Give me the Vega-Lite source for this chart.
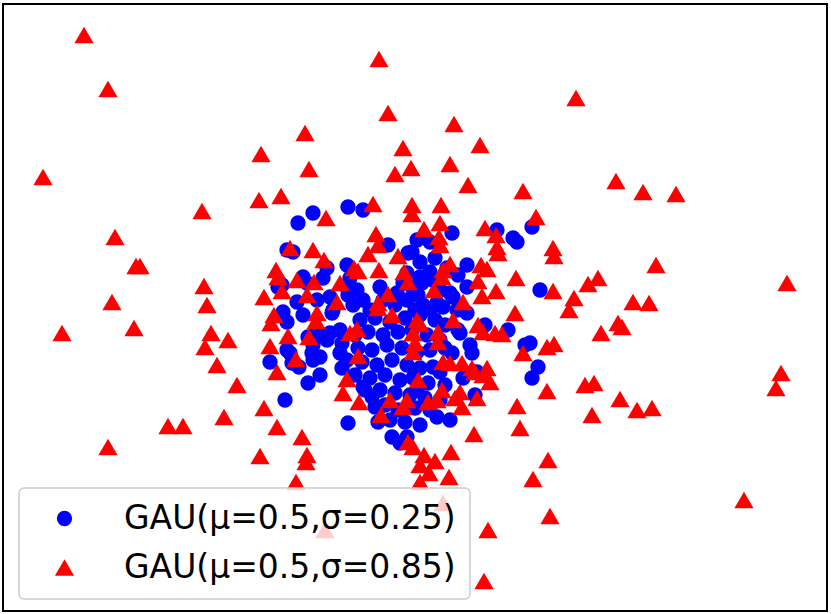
{
"$schema":"https://vega.github.io/schema/vega-lite/v6.json",
"width":831,"height":614,
"autosize":{"type":"fit","contains":"padding"},
"padding":{"left":3,"top":4,"right":4,"bottom":3},
"config":{"view":{"stroke":"black","strokeWidth":2},"font":"DejaVu Sans"},
"data":{"values":[
{"sigma":0.25,"x":3.48,"y":4.07},{"sigma":0.25,"x":3.63,"y":4.04},{"sigma":0.25,"x":3.13,"y":4.01},{"sigma":0.25,"x":2.98,"y":3.91},{"sigma":0.25,"x":2.87,"y":3.64},{"sigma":0.25,"x":2.93,"y":3.62},{"sigma":0.25,"x":3.88,"y":3.69},{"sigma":0.25,"x":4.08,"y":3.61},{"sigma":0.25,"x":4.17,"y":3.74},{"sigma":0.25,"x":4.30,"y":3.72},{"sigma":0.25,"x":4.52,"y":3.81},{"sigma":0.25,"x":4.12,"y":3.62},{"sigma":0.25,"x":4.97,"y":3.84},{"sigma":0.25,"x":5.13,"y":3.76},{"sigma":0.25,"x":5.17,"y":3.72},{"sigma":0.25,"x":5.32,"y":3.87},{"sigma":0.25,"x":4.67,"y":3.49},{"sigma":0.25,"x":5.40,"y":3.24},{"sigma":0.25,"x":4.67,"y":3.27},{"sigma":0.25,"x":3.27,"y":3.46},{"sigma":0.25,"x":3.47,"y":3.49},{"sigma":0.25,"x":3.03,"y":3.37},{"sigma":0.25,"x":3.23,"y":3.36},{"sigma":0.25,"x":2.82,"y":3.29},{"sigma":0.25,"x":2.78,"y":3.27},{"sigma":0.25,"x":2.97,"y":3.12},{"sigma":0.25,"x":3.17,"y":3.14},{"sigma":0.25,"x":3.30,"y":3.17},{"sigma":0.25,"x":3.48,"y":3.19},{"sigma":0.25,"x":3.57,"y":3.24},{"sigma":0.25,"x":3.63,"y":3.14},{"sigma":0.25,"x":3.53,"y":3.09},{"sigma":0.25,"x":3.80,"y":3.27},{"sigma":0.25,"x":3.97,"y":3.21},{"sigma":0.25,"x":4.07,"y":3.14},{"sigma":0.25,"x":2.83,"y":3.02},{"sigma":0.25,"x":3.33,"y":3.04},{"sigma":0.25,"x":3.47,"y":3.26},{"sigma":0.25,"x":3.50,"y":3.36},{"sigma":0.25,"x":3.83,"y":3.14},{"sigma":0.25,"x":4.03,"y":3.31},{"sigma":0.25,"x":4.07,"y":3.41},{"sigma":0.25,"x":4.20,"y":3.37},{"sigma":0.25,"x":4.30,"y":3.42},{"sigma":0.25,"x":4.12,"y":3.27},{"sigma":0.25,"x":4.22,"y":3.31},{"sigma":0.25,"x":4.33,"y":3.34},{"sigma":0.25,"x":4.50,"y":3.21},{"sigma":0.25,"x":4.53,"y":3.17},{"sigma":0.25,"x":4.23,"y":3.09},{"sigma":0.25,"x":4.37,"y":3.11},{"sigma":0.25,"x":4.43,"y":3.07},{"sigma":0.25,"x":4.57,"y":3.04},{"sigma":0.25,"x":4.67,"y":3.01},{"sigma":0.25,"x":2.87,"y":2.92},{"sigma":0.25,"x":3.07,"y":3.31},{"sigma":0.25,"x":3.17,"y":2.84},{"sigma":0.25,"x":3.27,"y":2.74},{"sigma":0.25,"x":3.12,"y":2.61},{"sigma":0.25,"x":3.20,"y":2.57},{"sigma":0.25,"x":2.87,"y":2.64},{"sigma":0.25,"x":2.92,"y":2.51},{"sigma":0.25,"x":3.08,"y":2.31},{"sigma":0.25,"x":3.40,"y":2.61},{"sigma":0.25,"x":3.47,"y":2.54},{"sigma":0.25,"x":3.42,"y":2.71},{"sigma":0.25,"x":3.03,"y":2.99},{"sigma":0.25,"x":3.32,"y":3.01},{"sigma":0.25,"x":3.08,"y":2.77},{"sigma":0.25,"x":3.22,"y":2.79},{"sigma":0.25,"x":3.30,"y":2.81},{"sigma":0.25,"x":3.40,"y":2.84},{"sigma":0.25,"x":3.13,"y":2.69},{"sigma":0.25,"x":2.90,"y":2.61},{"sigma":0.25,"x":2.70,"y":2.52},{"sigma":0.25,"x":2.99,"y":2.47},{"sigma":0.25,"x":3.13,"y":2.54},{"sigma":0.25,"x":3.42,"y":2.46},{"sigma":0.25,"x":3.20,"y":2.39},{"sigma":0.25,"x":2.85,"y":2.14},{"sigma":0.25,"x":3.48,"y":1.91},{"sigma":0.25,"x":3.63,"y":2.27},{"sigma":0.25,"x":3.72,"y":2.17},{"sigma":0.25,"x":3.75,"y":2.07},{"sigma":0.25,"x":3.78,"y":1.92},{"sigma":0.25,"x":3.92,"y":1.77},{"sigma":0.25,"x":4.00,"y":1.71},{"sigma":0.25,"x":5.30,"y":2.71},{"sigma":0.25,"x":5.25,"y":2.69},{"sigma":0.25,"x":5.38,"y":2.47},{"sigma":0.25,"x":5.32,"y":2.36},{"sigma":0.25,"x":5.08,"y":2.84},{"sigma":0.25,"x":4.85,"y":2.89},{"sigma":0.25,"x":4.70,"y":2.69},{"sigma":0.25,"x":4.72,"y":2.61},{"sigma":0.25,"x":4.58,"y":2.84},{"sigma":0.25,"x":4.52,"y":2.61},{"sigma":0.25,"x":4.63,"y":2.36},{"sigma":0.25,"x":4.77,"y":2.42},{"sigma":0.25,"x":4.75,"y":2.19},{"sigma":0.25,"x":4.37,"y":1.97},{"sigma":0.25,"x":4.50,"y":1.94},{"sigma":0.25,"x":4.17,"y":2.24},{"sigma":0.25,"x":4.33,"y":2.47},{"sigma":0.25,"x":4.07,"y":1.77},
{"sigma":0.25,"x":3.60,"y":2.94},{"sigma":0.25,"x":3.75,"y":2.96},{"sigma":0.25,"x":3.90,"y":2.92},{"sigma":0.25,"x":4.05,"y":2.96},{"sigma":0.25,"x":4.20,"y":2.99},{"sigma":0.25,"x":4.35,"y":2.94},{"sigma":0.25,"x":4.45,"y":2.89},{"sigma":0.25,"x":3.55,"y":2.79},{"sigma":0.25,"x":3.68,"y":2.82},{"sigma":0.25,"x":3.83,"y":2.79},{"sigma":0.25,"x":3.98,"y":2.82},{"sigma":0.25,"x":4.12,"y":2.84},{"sigma":0.25,"x":4.27,"y":2.79},{"sigma":0.25,"x":4.40,"y":2.74},{"sigma":0.25,"x":3.58,"y":2.66},{"sigma":0.25,"x":3.72,"y":2.64},{"sigma":0.25,"x":3.87,"y":2.69},{"sigma":0.25,"x":4.02,"y":2.66},{"sigma":0.25,"x":4.17,"y":2.62},{"sigma":0.25,"x":4.30,"y":2.64},{"sigma":0.25,"x":4.45,"y":2.66},{"sigma":0.25,"x":3.62,"y":2.52},{"sigma":0.25,"x":3.77,"y":2.49},{"sigma":0.25,"x":3.92,"y":2.54},{"sigma":0.25,"x":4.07,"y":2.49},{"sigma":0.25,"x":4.20,"y":2.46},{"sigma":0.25,"x":4.40,"y":2.42},{"sigma":0.25,"x":3.55,"y":2.39},{"sigma":0.25,"x":3.70,"y":2.36},{"sigma":0.25,"x":3.85,"y":2.39},{"sigma":0.25,"x":4.00,"y":2.34},{"sigma":0.25,"x":4.13,"y":2.36},{"sigma":0.25,"x":4.28,"y":2.31},{"sigma":0.25,"x":4.45,"y":2.29},{"sigma":0.25,"x":3.65,"y":2.24},{"sigma":0.25,"x":3.80,"y":2.24},{"sigma":0.25,"x":3.95,"y":2.21},{"sigma":0.25,"x":4.10,"y":2.19},{"sigma":0.25,"x":4.25,"y":2.16},{"sigma":0.25,"x":4.40,"y":2.14},{"sigma":0.25,"x":3.85,"y":2.09},{"sigma":0.25,"x":3.98,"y":2.04},{"sigma":0.25,"x":4.15,"y":2.06},{"sigma":0.25,"x":4.30,"y":2.04},{"sigma":0.25,"x":3.90,"y":1.94},{"sigma":0.25,"x":4.05,"y":1.92},{"sigma":0.25,"x":4.20,"y":1.89},{"sigma":0.25,"x":3.95,"y":3.09},{"sigma":0.25,"x":4.15,"y":3.04},{"sigma":0.25,"x":4.30,"y":3.04},{"sigma":0.25,"x":3.70,"y":3.04},{"sigma":0.25,"x":4.40,"y":3.24},{"sigma":0.25,"x":4.18,"y":3.19},{"sigma":0.25,"x":4.20,"y":3.52},{"sigma":0.25,"x":4.35,"y":3.56},{"sigma":0.25,"x":4.47,"y":3.46},{"sigma":0.25,"x":4.58,"y":3.39},{"sigma":0.25,"x":4.60,"y":2.81},
{"sigma":0.85,"x":0.84,"y":5.79},{"sigma":0.85,"x":1.08,"y":5.25},{"sigma":0.85,"x":0.43,"y":4.37},{"sigma":0.85,"x":3.79,"y":5.55},{"sigma":0.85,"x":3.88,"y":5.01},{"sigma":0.85,"x":3.05,"y":4.81},{"sigma":0.85,"x":4.03,"y":4.66},{"sigma":0.85,"x":4.11,"y":4.46},{"sigma":0.85,"x":3.95,"y":4.40},{"sigma":0.85,"x":2.61,"y":4.60},{"sigma":0.85,"x":3.09,"y":4.45},{"sigma":0.85,"x":2.59,"y":4.14},{"sigma":0.85,"x":2.81,"y":4.18},{"sigma":0.85,"x":2.02,"y":4.03},{"sigma":0.85,"x":3.26,"y":3.96},{"sigma":0.85,"x":3.73,"y":4.10},{"sigma":0.85,"x":4.12,"y":4.09},{"sigma":0.85,"x":4.12,"y":4.00},{"sigma":0.85,"x":1.15,"y":3.77},{"sigma":0.85,"x":1.36,"y":3.48},{"sigma":0.85,"x":1.40,"y":3.48},{"sigma":0.85,"x":2.04,"y":3.28},{"sigma":0.85,"x":1.12,"y":3.12},{"sigma":0.85,"x":2.07,"y":3.09},{"sigma":0.85,"x":2.64,"y":3.17},{"sigma":0.85,"x":2.90,"y":3.66},{"sigma":0.85,"x":3.13,"y":3.64},{"sigma":0.85,"x":3.24,"y":3.54},{"sigma":0.85,"x":3.76,"y":3.80},{"sigma":0.85,"x":3.78,"y":3.69},{"sigma":0.85,"x":3.68,"y":3.60},{"sigma":0.85,"x":3.98,"y":3.58},{"sigma":0.85,"x":3.54,"y":3.46},{"sigma":0.85,"x":3.58,"y":3.43},{"sigma":0.85,"x":3.79,"y":3.44},{"sigma":0.85,"x":4.04,"y":3.42},{"sigma":0.85,"x":4.08,"y":3.32},{"sigma":0.85,"x":2.76,"y":3.44},{"sigma":0.85,"x":2.78,"y":3.37},{"sigma":0.85,"x":2.82,"y":3.23},{"sigma":0.85,"x":2.97,"y":3.34},{"sigma":0.85,"x":3.14,"y":3.32},{"sigma":0.85,"x":3.07,"y":3.19},{"sigma":0.85,"x":3.40,"y":3.31},{"sigma":0.85,"x":3.37,"y":3.12},{"sigma":0.85,"x":3.88,"y":3.20},{"sigma":0.85,"x":3.78,"y":3.11},
{"sigma":0.85,"x":5.76,"y":5.16},{"sigma":0.85,"x":4.54,"y":4.90},{"sigma":0.85,"x":4.80,"y":4.69},{"sigma":0.85,"x":4.50,"y":4.50},{"sigma":0.85,"x":4.68,"y":4.29},{"sigma":0.85,"x":5.23,"y":4.23},{"sigma":0.85,"x":6.16,"y":4.33},{"sigma":0.85,"x":6.43,"y":4.22},{"sigma":0.85,"x":6.76,"y":4.20},{"sigma":0.85,"x":4.41,"y":4.09},{"sigma":0.85,"x":5.36,"y":3.97},{"sigma":0.85,"x":4.24,"y":3.85},{"sigma":0.85,"x":4.40,"y":3.91},{"sigma":0.85,"x":4.39,"y":3.77},{"sigma":0.85,"x":4.40,"y":3.69},{"sigma":0.85,"x":4.85,"y":3.86},{"sigma":0.85,"x":4.96,"y":3.79},{"sigma":0.85,"x":4.97,"y":3.67},{"sigma":0.85,"x":4.98,"y":3.61},{"sigma":0.85,"x":5.53,"y":3.66},{"sigma":0.85,"x":5.54,"y":3.58},{"sigma":0.85,"x":6.56,"y":3.49},{"sigma":0.85,"x":7.87,"y":3.31},{"sigma":0.85,"x":4.50,"y":3.50},{"sigma":0.85,"x":4.81,"y":3.49},{"sigma":0.85,"x":4.87,"y":3.45},{"sigma":0.85,"x":4.43,"y":3.44},{"sigma":0.85,"x":4.42,"y":3.37},{"sigma":0.85,"x":4.78,"y":3.33},{"sigma":0.85,"x":5.16,"y":3.36},{"sigma":0.85,"x":5.53,"y":3.23},{"sigma":0.85,"x":4.96,"y":3.23},{"sigma":0.85,"x":4.82,"y":3.18},{"sigma":0.85,"x":4.34,"y":3.24},{"sigma":0.85,"x":4.63,"y":3.12},{"sigma":0.85,"x":5.88,"y":3.30},{"sigma":0.85,"x":5.98,"y":3.36},{"sigma":0.85,"x":5.74,"y":3.16},{"sigma":0.85,"x":6.33,"y":3.12},{"sigma":0.85,"x":6.49,"y":3.11},{"sigma":0.85,"x":5.15,"y":3.01},
{"sigma":0.85,"x":5.69,"y":3.04},{"sigma":0.85,"x":6.18,"y":2.91},{"sigma":0.85,"x":6.22,"y":2.87},{"sigma":0.85,"x":6.01,"y":2.81},{"sigma":0.85,"x":5.47,"y":2.67},{"sigma":0.85,"x":5.54,"y":2.70},{"sigma":0.85,"x":5.23,"y":2.61},{"sigma":0.85,"x":7.81,"y":2.41},{"sigma":0.85,"x":7.76,"y":2.26},{"sigma":0.85,"x":5.85,"y":2.29},{"sigma":0.85,"x":5.94,"y":2.31},{"sigma":0.85,"x":5.47,"y":2.23},{"sigma":0.85,"x":6.20,"y":2.15},{"sigma":0.85,"x":6.37,"y":2.04},{"sigma":0.85,"x":6.52,"y":2.06},{"sigma":0.85,"x":5.92,"y":1.99},{"sigma":0.85,"x":5.17,"y":2.08},{"sigma":0.85,"x":5.20,"y":1.86},{"sigma":0.85,"x":4.74,"y":1.80},{"sigma":0.85,"x":5.48,"y":1.54},{"sigma":0.85,"x":5.33,"y":1.35},{"sigma":0.85,"x":7.44,"y":1.14},{"sigma":0.85,"x":5.50,"y":0.98},{"sigma":0.85,"x":4.88,"y":0.84},{"sigma":0.85,"x":4.84,"y":0.33},{"sigma":0.85,"x":4.51,"y":1.62},{"sigma":0.85,"x":4.24,"y":1.59},{"sigma":0.85,"x":4.35,"y":1.53},{"sigma":0.85,"x":4.20,"y":1.49},{"sigma":0.85,"x":4.29,"y":1.41},{"sigma":0.85,"x":4.49,"y":1.37},{"sigma":0.85,"x":4.20,"y":1.32},{"sigma":0.85,"x":4.43,"y":1.11},{"sigma":0.85,"x":4.13,"y":1.67},
{"sigma":0.85,"x":0.62,"y":2.81},{"sigma":0.85,"x":1.34,"y":2.86},{"sigma":0.85,"x":2.11,"y":2.81},{"sigma":0.85,"x":2.05,"y":2.67},{"sigma":0.85,"x":2.28,"y":2.74},{"sigma":0.85,"x":2.17,"y":2.49},{"sigma":0.85,"x":2.37,"y":2.29},{"sigma":0.85,"x":2.64,"y":2.06},{"sigma":0.85,"x":2.24,"y":1.97},{"sigma":0.85,"x":1.68,"y":1.88},{"sigma":0.85,"x":1.83,"y":1.88},{"sigma":0.85,"x":2.77,"y":1.87},{"sigma":0.85,"x":3.02,"y":1.77},{"sigma":0.85,"x":3.07,"y":1.59},{"sigma":0.85,"x":3.06,"y":1.52},{"sigma":0.85,"x":2.60,"y":1.58},{"sigma":0.85,"x":1.08,"y":1.67},{"sigma":0.85,"x":2.96,"y":1.32},{"sigma":0.85,"x":3.25,"y":0.84},{"sigma":0.85,"x":2.74,"y":2.99},{"sigma":0.85,"x":2.71,"y":2.91},{"sigma":0.85,"x":3.17,"y":3.01},{"sigma":0.85,"x":3.16,"y":2.93},{"sigma":0.85,"x":2.88,"y":2.78},{"sigma":0.85,"x":3.09,"y":2.77},{"sigma":0.85,"x":2.70,"y":2.68},{"sigma":0.85,"x":2.96,"y":2.55},{"sigma":0.85,"x":2.77,"y":2.42},{"sigma":0.85,"x":3.50,"y":2.81},{"sigma":0.85,"x":3.57,"y":2.85},{"sigma":0.85,"x":3.78,"y":3.06},{"sigma":0.85,"x":3.92,"y":2.99},{"sigma":0.85,"x":3.58,"y":2.58},{"sigma":0.85,"x":3.47,"y":2.35},{"sigma":0.85,"x":3.43,"y":2.21},{"sigma":0.85,"x":3.59,"y":2.12},{"sigma":0.85,"x":3.81,"y":1.99},{"sigma":0.85,"x":3.90,"y":2.14},{"sigma":0.85,"x":4.03,"y":2.07},{"sigma":0.85,"x":4.07,"y":2.14},{"sigma":0.85,"x":4.08,"y":1.72},{"sigma":0.85,"x":4.13,"y":2.81},{"sigma":0.85,"x":4.13,"y":2.62},
{"sigma":0.85,"x":4.17,"y":2.94},{"sigma":0.85,"x":4.20,"y":2.90},{"sigma":0.85,"x":4.53,"y":2.94},{"sigma":0.85,"x":4.78,"y":2.89},{"sigma":0.85,"x":4.83,"y":2.82},{"sigma":0.85,"x":4.95,"y":2.81},{"sigma":0.85,"x":5.02,"y":2.80},{"sigma":0.85,"x":4.38,"y":2.82},{"sigma":0.85,"x":4.38,"y":2.72},{"sigma":0.85,"x":4.15,"y":2.71},{"sigma":0.85,"x":4.43,"y":2.52},{"sigma":0.85,"x":4.50,"y":2.51},{"sigma":0.85,"x":4.62,"y":2.51},{"sigma":0.85,"x":4.72,"y":2.46},{"sigma":0.85,"x":4.75,"y":2.42},{"sigma":0.85,"x":4.83,"y":2.39},{"sigma":0.85,"x":4.87,"y":2.46},{"sigma":0.85,"x":4.90,"y":2.32},{"sigma":0.85,"x":4.18,"y":2.34},{"sigma":0.85,"x":4.42,"y":2.24},{"sigma":0.85,"x":4.60,"y":2.22},{"sigma":0.85,"x":4.55,"y":2.16},{"sigma":0.85,"x":4.62,"y":2.07},{"sigma":0.85,"x":4.77,"y":2.16},{"sigma":0.85,"x":4.28,"y":2.12},{"sigma":0.85,"x":4.37,"y":2.14}
]},
"mark":{"type":"point","filled":true,"opacity":1},
"encoding":{
"x":{"field":"x","type":"quantitative","scale":{"domain":[0.03,8.27],"nice":false,"zero":false},"axis":null},
"y":{"field":"y","type":"quantitative","scale":{"domain":[0.03,6.10],"nice":false,"zero":false},"axis":null},
"color":{"field":"sigma","type":"nominal","scale":{"domain":[0.25,0.85],"range":["#0000ff","#ff0000"]},
"legend":{"title":null,"orient":"none","legendX":16,"legendY":484,"direction":"vertical",
"labelExpr":"'GAU(μ=0.5,σ=' + datum.label + ')'","labelFont":"DejaVu Sans","labelFontSize":33,"labelColor":"black","labelLimit":600,
"labelOffset":43,"symbolOffset":15,"symbolOpacity":1,"rowPadding":15,"padding":14,
"fillColor":"rgba(255,255,255,0.8)","strokeColor":"#cccccc","cornerRadius":5,
"encode":{"legend":{"update":{"strokeWidth":{"value":1.5}}}}}},
"shape":{"field":"sigma","type":"nominal","scale":{"domain":[0.25,0.85],"range":["circle","triangle-up"]}},
"size":{"field":"sigma","type":"nominal","scale":{"domain":[0.25,0.85],"range":[235,370]}}
}
}
